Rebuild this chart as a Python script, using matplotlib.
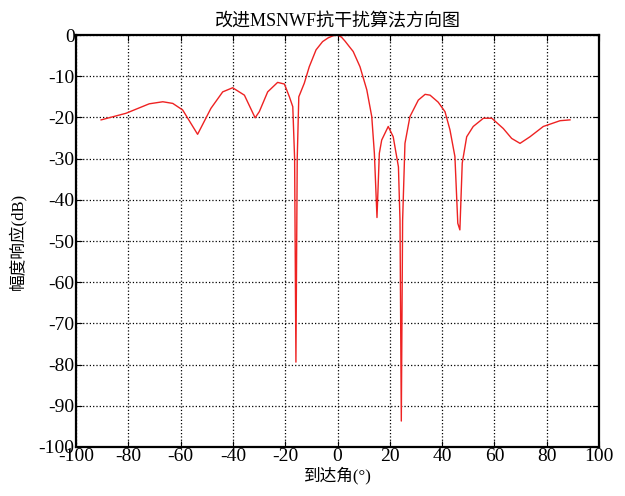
import matplotlib.pyplot as plt

plt.rcParams['font.family'] = ['Liberation Serif', 'Noto Sans CJK SC']
plt.rcParams['axes.unicode_minus'] = False

angle = [-90.4, -80.9, -72, -66.8, -63, -59.2, -53.5, -48.4, -43.9, -40.1, -35.6, -31.5, -29.9,
         -26.7, -22.9, -20.3, -18.4, -17.1, -16.4, -15.9, -15.4, -14.8, -12.7, -10.8, -8.2, -5.7,
         -3.6, -1.8, 0.0, 1.5, 2.9, 4.5, 6.0, 8.6, 11.2, 13.1, 14.1, 15.1, 16.0, 16.9, 19.4, 21.3,
         23.3, 23.9, 24.4, 24.9, 25.8, 27.7, 30.9, 33.5, 35.4, 38.5, 41.1, 43.0, 44.9, 46.0, 46.8,
         47.7, 49.4, 51.9, 55.8, 59.0, 63.4, 66.6, 69.8, 73.6, 78.7, 85.1, 88.9]
gain = [-20.6, -19.0, -16.7, -16.2, -16.6, -18.2, -24.1, -17.8, -13.8, -12.8, -14.6, -20.1, -18.6,
        -13.8, -11.5, -11.9, -15.0, -17.4, -30.0, -79.4, -30.0, -15.0, -11.7, -7.7, -3.6, -1.6,
        -0.7, -0.2, 0.0, -0.5, -1.5, -2.8, -4.0, -7.7, -13.3, -19.8, -28.7, -44.3, -28.7, -25.5,
        -22.2, -24.7, -32.0, -45.0, -93.7, -45.0, -26.3, -19.8, -15.8, -14.4, -14.6, -16.3, -18.6,
        -23.0, -29.5, -45.7, -47.3, -31.1, -24.7, -22.2, -20.2, -20.2, -22.7, -25.1, -26.3, -24.7,
        -22.2, -20.8, -20.6]

fig = plt.figure(figsize=(6.25, 4.96), dpi=100)
ax = fig.add_axes([0.1216, 0.0988, 0.8368, 0.8306])
ax.plot(angle, gain, color='#ee2222', linewidth=1.0)

ax.set_xlim(-100, 100)
ax.set_ylim(-100, 0)
ax.set_xticks(range(-100, 101, 20))
ax.set_yticks(range(-100, 1, 10))
ax.grid(True, color='black', linestyle=':', linewidth=0.9)
ax.tick_params(direction='in', top=True, right=True, labelsize=14, length=4, pad=1)
for s in ax.spines.values():
    s.set_linewidth(1.6)

ax.set_title('改进MSNWF抗干扰算法方向图', fontsize=13, pad=6)
ax.set_xlabel('到达角(°)', fontsize=12, labelpad=1)
ax.set_ylabel('幅度响应(dB)', fontsize=12, labelpad=9)

fig.savefig('out.png', dpi=100)
